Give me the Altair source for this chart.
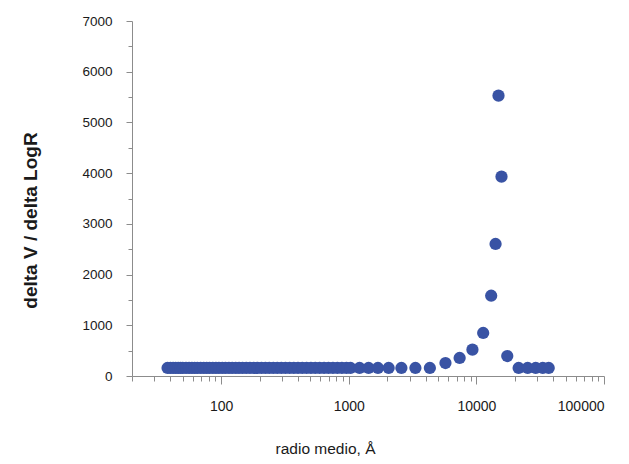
import altair as alt
import pandas as pd

# Mean radius (Å)
radius = [
    38, 40, 42, 44, 46, 48, 50, 53, 56, 59,
    62, 65, 69, 73, 77, 81, 86, 91, 96, 102,
    108, 115, 122, 130, 138, 147, 157, 168, 180, 193,
    207, 222, 238, 256, 275, 296, 319, 344, 371, 400,
    432, 467, 505, 546, 591, 640, 693, 751, 814, 883,
    958, 1031, 1214, 1429, 1692, 2053, 2584, 3327, 4318, 5723,
    7390, 9310, 11300, 13060, 14130, 14900, 15730, 17450, 21430, 25230,
    29170, 33130, 36880,
]
# delta V / delta LogR
dv_dlogr = [
    158, 158, 158, 158, 158, 158, 158, 158, 158, 158,
    158, 158, 158, 158, 158, 158, 158, 158, 158, 158,
    158, 158, 158, 158, 158, 158, 158, 158, 158, 158,
    158, 158, 158, 158, 158, 158, 158, 158, 158, 158,
    158, 158, 158, 158, 158, 158, 158, 158, 158, 158,
    158, 158, 158, 158, 158, 158, 158, 158, 158, 256,
    355, 519, 848, 1583, 2603, 5527, 3930, 394, 158, 158,
    158, 158, 158,
]

x_ticks = [20, 30, 40, 50, 60, 70, 80, 90,
           100, 200, 300, 400, 500, 600, 700, 800, 900,
           1000, 2000, 3000, 4000, 5000, 6000, 7000, 8000, 9000,
           10000, 20000, 30000, 40000, 50000, 60000, 70000, 80000, 90000,
           100000]
y_ticks = [0, 500, 1000, 1500, 2000, 2500, 3000, 3500, 4000, 4500,
           5000, 5500, 6000, 6500, 7000]

df = pd.DataFrame({"r": radius, "v": dv_dlogr})

FONT = "Liberation Sans"
AXIS_COLOR = "#8c8c8c"

chart = alt.Chart(df).mark_circle(size=150, opacity=1, color="#3953a4").encode(
    x=alt.X(
        "r:Q",
        scale=alt.Scale(type="log", domain=[20, 100000], nice=False),
        axis=alt.Axis(
            values=x_ticks,
            labelExpr="indexof([100,1000,10000,100000], datum.value) >= 0 ? datum.label : ''",
            format="d",
            grid=False,
            tickSize={"condition": {"test": "indexof([100,1000,10000,100000], datum.value) >= 0", "value": 8}, "value": 5},
            labelPadding=15,
            labelFontSize=14,
            title="radio medio, Å",
            titleFontWeight="normal",
            titleFontSize=15.5,
            titleX=193,
            titleY=77,
            titleBaseline="alphabetic",
        ),
    ),
    y=alt.Y(
        "v:Q",
        scale=alt.Scale(domain=[0, 7000], nice=False),
        axis=alt.Axis(
            values=y_ticks,
            labelExpr="datum.value % 1000 == 0 ? datum.label : ''",
            format="d",
            grid=False,
            tickSize={"condition": {"test": "datum.value % 1000 == 0", "value": 6}, "value": 4},
            labelPadding=14,
            title="delta V / delta LogR",
            titleFontWeight="bold",
            titleFontSize=19,
            titleX=-102,
            titleY=199,
            titleBaseline="middle",
        ),
    ),
).properties(
    width=472,
    height=355,
    autosize=alt.AutoSizeParams(type="none"),
    padding={"left": 124, "top": 13, "right": 17, "bottom": 80},
).configure_view(
    stroke=None
).configure_axis(
    domainColor=AXIS_COLOR,
    tickColor=AXIS_COLOR,
    labelFont=FONT,
    titleFont=FONT,
    labelFontSize=13.5,
    titleFontSize=13.5,
    labelColor="#1a1a1a",
    titleColor="#1a1a1a",
)

chart.save("out.html", embed_options={"renderer": "svg", "actions": False})
